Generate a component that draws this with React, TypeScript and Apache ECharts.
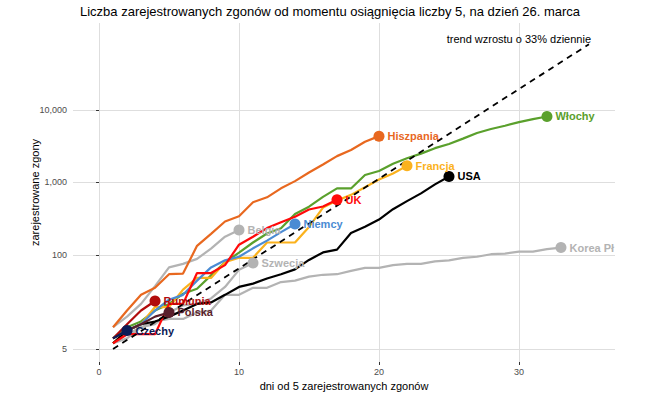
import React, { useEffect, useRef } from 'react';
import * as echarts from 'echarts';

// Deaths by day since reaching 5 deaths (day 1 = first day)
const korea = [6, 8, 10, 12, 13, 13, 16, 17, 28, 28, 35, 35, 42, 44, 50, 53, 54, 60, 66, 66, 72, 75, 75, 81, 84, 91, 94, 102, 104, 111, 111, 120, 126];
const szwecja = [6, 7, 10, 11, 16, 20, 21, 25, 36, 62, 77];
const belgia = [10, 14, 21, 37, 67, 75, 88, 122, 178, 220];
const wlochy = [7, 10, 12, 17, 21, 29, 34, 52, 79, 107, 148, 197, 233, 366, 463, 631, 827, 827, 1266, 1441, 1809, 2158, 2503, 2978, 3405, 4032, 4825, 5476, 6077, 6820, 7503, 8165];
const hiszpania = [10, 17, 28, 35, 54, 55, 133, 195, 289, 342, 533, 623, 830, 1043, 1375, 1772, 2311, 2808, 3647, 4365];
const francja = [6, 9, 11, 19, 19, 33, 48, 48, 79, 91, 91, 148, 148, 148, 243, 450, 562, 674, 860, 1100, 1331, 1696];
const usa = [6, 9, 11, 12, 14, 17, 21, 22, 28, 36, 40, 47, 54, 63, 85, 108, 118, 200, 244, 307, 427, 552, 706, 942, 1209];
const niemcy = [7, 9, 11, 17, 24, 28, 44, 67, 84, 94, 123, 157, 206, 267];
const uk = [6, 8, 8, 8, 21, 21, 56, 56, 72, 138, 178, 234, 282, 336, 423, 466, 578];
const rumunia = [7, 11, 17, 23];
const polska = [7, 9, 11, 14, 16];
const czechy = [7, 9];

const countryNames = ['Korea Płd.', 'Szwecja', 'Belgia', 'Włochy', 'Hiszpania', 'Francja', 'USA', 'Niemcy', 'UK', 'Rumunia', 'Polska', 'Czechy'];
const countryValues = [korea, szwecja, belgia, wlochy, hiszpania, francja, usa, niemcy, uk, rumunia, polska, czechy];
const countryColors = ['#b3b3b3', '#b3b3b3', '#b3b3b3', '#5aa02c', '#e8681f', '#fbb21d', '#000000', '#4a8bd3', '#ff0a0a', '#b10c0c', '#5a1f2c', '#0b1c57'];

// 33% daily growth trend, endpoints (day, deaths)
const trendDays = [1, 35];
const trendValues = [5, 81300];

const xTicks = [0, 10, 20, 30];
const yTicks = [5, 100, 1000, 10000];

const TITLE = 'Liczba zarejestrowanych zgonów od momentu osiągnięcia liczby 5, na dzień 26. marca';
const FONT = 'Liberation Sans, Arial, sans-serif';

export default function App() {
  const ref = useRef<HTMLDivElement>(null);
  useEffect(() => {
    document.body.style.margin = '0';
    const chart = echarts.init(ref.current!, null, { renderer: 'svg' });
    const lineSeries: any[] = countryNames.map((name, i) => ({
      type: 'line',
      name,
      data: countryValues[i].map((v, d) => [d + 1, v]),
      symbol: 'none',
      lineStyle: { color: countryColors[i], width: 2.2 },
      itemStyle: { color: countryColors[i] },
      z: 2,
    }));
    const trend = {
      type: 'line',
      name: 'trend',
      data: trendDays.map((d, i) => [d, trendValues[i]]),
      symbol: 'none',
      lineStyle: { color: '#000', width: 1.8, type: [6, 5] },
      z: 3,
    };
    const ends = {
      type: 'scatter',
      name: 'ends',
      symbolSize: 11,
      z: 4,
      data: countryNames.map((name, i) => {
        const arr = countryValues[i];
        const clipToPanel = name === 'Korea Płd.';
        return {
          value: [arr.length, arr[arr.length - 1]],
          itemStyle: { color: countryColors[i], opacity: 1 },
          label: {
            show: true,
            position: 'right',
            distance: 3,
            formatter: name,
            color: countryColors[i],
            fontWeight: 'bold',
            fontSize: 11,
            fontFamily: FONT,
            ...(clipToPanel ? { width: 46, overflow: 'truncate', ellipsis: '' } : {}),
          },
        };
      }),
    };
    chart.setOption({
      animation: false,
      backgroundColor: '#fff',
      textStyle: { fontFamily: FONT },
      grid: { left: 73, right: 30, top: 23, bottom: 33, outerBoundsMode: 'none', containLabel: false },
      xAxis: {
        type: 'value',
        min: -1.86,
        max: 36.86,
        name: 'dni od 5 zarejestrowanych zgonów',
        nameLocation: 'middle',
        nameGap: 18,
        nameTextStyle: { color: '#000', fontSize: 11, fontFamily: FONT },
        axisLine: { show: false },
        axisTick: { show: true, length: 3, lineStyle: { color: '#333' }, customValues: xTicks },
        axisLabel: { color: '#4d4d4d', fontSize: 9, margin: 5, customValues: xTicks, fontFamily: FONT },
        splitLine: { show: true, lineStyle: { color: '#dedede', width: 1 } },
      },
      yAxis: {
        type: 'log',
        logBase: 10,
        min: 3.305,
        max: 159700,
        name: 'zarejestrowane zgony',
        nameLocation: 'middle',
        nameGap: 33,
        nameRotate: 90,
        nameMoveOverlap: false,
        nameTextStyle: { color: '#000', fontSize: 11, fontFamily: FONT },
        axisLine: { show: false },
        axisTick: { show: true, length: 3, lineStyle: { color: '#333' }, customValues: yTicks },
        axisLabel: {
          color: '#4d4d4d',
          fontSize: 9,
          margin: 6,
          customValues: yTicks,
          fontFamily: FONT,
          formatter: (v: number) => Math.round(v).toLocaleString('en-US'),
        },
        splitLine: { show: true, lineStyle: { color: '#dedede', width: 1 } },
      },
      graphic: [
        {
          type: 'text',
          x: 330,
          y: 11,
          style: {
            text: TITLE,
            fontSize: 13,
            fontFamily: FONT,
            fill: '#000',
            textAlign: 'center',
            textVerticalAlign: 'middle',
          },
        },
        {
          type: 'text',
          x: 591,
          y: 39,
          z: 10,
          style: {
            text: 'trend wzrostu o 33% dziennie',
            fontSize: 11,
            fontFamily: FONT,
            fill: '#000',
            textAlign: 'right',
            textVerticalAlign: 'middle',
          },
        },
      ],
      series: [...lineSeries, trend, ends],
    });
    return () => chart.dispose();
  }, []);
  return <div ref={ref} style={{ width: 645, height: 395 }} />;
}
